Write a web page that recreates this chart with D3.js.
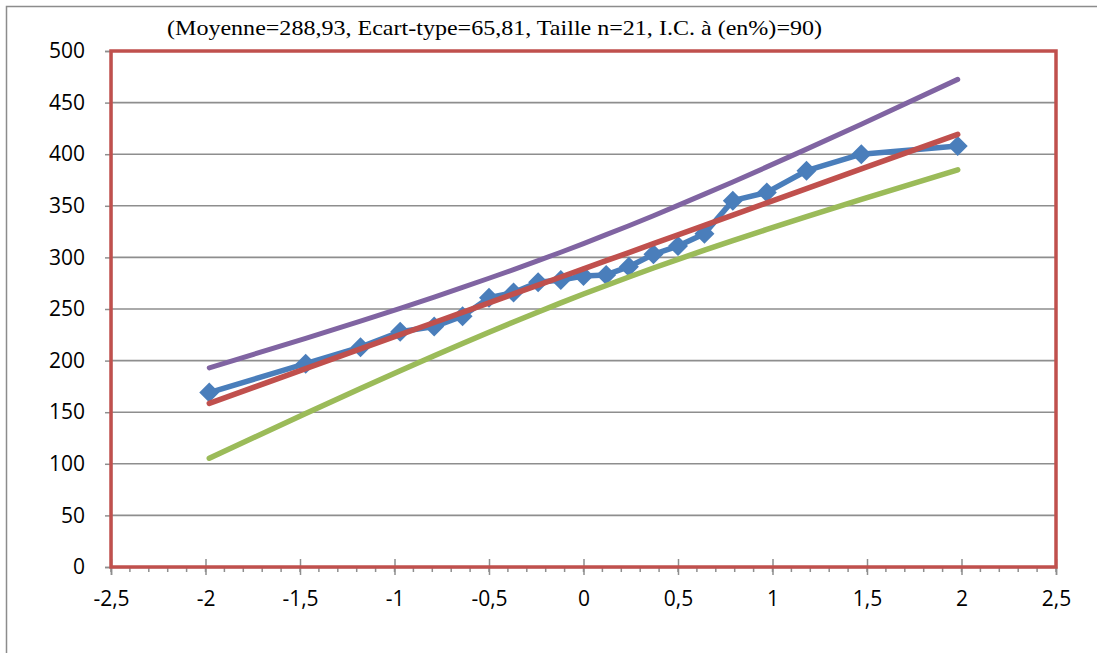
<!DOCTYPE html>
<html>
<head>
<meta charset="utf-8">
<script src="https://cdn.jsdelivr.net/npm/d3@7"></script>
<style>
  html, body { margin: 0; padding: 0; background: #ffffff; }
  svg { display: block; }
</style>
</head>
<body>
<svg id="chart" width="1097" height="653"></svg>
<script>
// Normal quantiles (Hazen plotting positions) for the 21 sorted observations
const zScores = [-1.98, -1.47, -1.18, -0.97, -0.79, -0.64, -0.50, -0.37, -0.24, -0.12, 0,
                 0.12, 0.24, 0.37, 0.50, 0.64, 0.79, 0.97, 1.18, 1.47, 1.98];
// Sorted observations
const observed = [169, 197, 213, 228, 233, 243, 261, 266, 276, 278, 282,
                  283, 291, 303, 311, 323, 355, 363, 384, 400, 408];
// Fitted normal line: mean + sd * z
const fitted = [158.6, 192.2, 211.3, 225.1, 236.9, 246.8, 256.0, 264.6, 273.1, 281.0, 288.9,
                296.8, 304.7, 313.3, 321.8, 331.1, 340.9, 352.8, 366.6, 385.7, 419.2];
// 90% confidence band, upper limit
const upperBound = [193.0, 221.6, 238.3, 250.7, 261.6, 270.9, 279.8, 288.2, 296.9, 305.0, 313.4,
                    322.0, 330.7, 340.4, 350.4, 361.3, 373.1, 387.7, 404.9, 429.1, 472.5];
// 90% confidence band, lower limit
const lowerBound = [105.4, 148.7, 173.0, 190.2, 204.7, 216.6, 227.5, 237.4, 247.1, 255.9, 264.5,
                    272.8, 281.0, 289.7, 298.1, 307.0, 316.3, 327.1, 339.5, 356.3, 384.9];

const xTicks = [-2.5, -2, -1.5, -1, -0.5, 0, 0.5, 1, 1.5, 2, 2.5];
const yTicks = [0, 50, 100, 150, 200, 250, 300, 350, 400, 450, 500];
const titleText = "(Moyenne=288,93, Ecart-type=65,81, Taille n=21, I.C. à (en%)=90)";

const svg = d3.select("#chart");
const plot = { left: 111, right: 1056, top: 51, bottom: 567 };

const x = d3.scaleLinear().domain([-2.5, 2.5]).range([plot.left, plot.right]);
const y = d3.scaleLinear().domain([0, 500]).range([plot.bottom, plot.top]);
const fmt = v => String(v).replace(".", ",");
const labelFont = "'Open Sans', Lato, sans-serif";

// Outer chart frame
svg.append("rect")
  .attr("x", 6.5).attr("y", 6.5)
  .attr("width", 1200).attr("height", 800)
  .attr("fill", "none").attr("stroke", "#8c8c8c").attr("stroke-width", 1.5);

// Title
svg.append("text")
  .attr("x", 167).attr("y", 35)
  .attr("font-family", "'Liberation Serif', 'Times New Roman', serif")
  .attr("font-size", 22)
  .attr("textLength", 655)
  .attr("lengthAdjust", "spacingAndGlyphs")
  .attr("fill", "#000")
  .text(titleText);

// Horizontal gridlines
svg.append("g")
  .selectAll("line")
  .data(yTicks.filter(v => v > 0 && v < 500))
  .join("line")
  .attr("x1", plot.left).attr("x2", plot.right)
  .attr("y1", d => y(d)).attr("y2", d => y(d))
  .attr("stroke", "#8e8e8e").attr("stroke-width", 1.6);

// Y axis
const yAxis = d3.axisLeft(y).tickValues(yTicks).tickSize(6).tickPadding(20).tickFormat(fmt);
const gy = svg.append("g").attr("transform", `translate(${plot.left},0)`).call(yAxis);
gy.select(".domain").attr("stroke", "#8e8e8e").attr("stroke-width", 1.5);
gy.selectAll(".tick line").attr("stroke", "#8e8e8e").attr("stroke-width", 1.5);
gy.selectAll(".tick text")
  .attr("font-family", labelFont)
  .attr("font-size", 21).attr("fill", "#000");

// X axis: minor ticks every 0.1, major ticks every 0.5 crossing the axis
const minorTicks = d3.range(-25, 26).map(v => v / 10);
svg.append("g")
  .selectAll("line")
  .data(minorTicks)
  .join("line")
  .attr("x1", d => x(d)).attr("x2", d => x(d))
  .attr("y1", plot.bottom).attr("y2", plot.bottom + 5)
  .attr("stroke", "#8e8e8e").attr("stroke-width", 1.5);

const xAxis = d3.axisBottom(x).tickValues(xTicks).tickSize(8).tickPadding(16).tickFormat(fmt);
const gx = svg.append("g").attr("transform", `translate(0,${plot.bottom})`).call(xAxis);
gx.select(".domain").attr("stroke", "#8e8e8e").attr("stroke-width", 1.5);
gx.selectAll(".tick line").attr("y1", -8).attr("stroke", "#8e8e8e").attr("stroke-width", 1.5);
gx.selectAll(".tick text")
  .attr("font-family", labelFont)
  .attr("font-size", 21).attr("fill", "#000");

// Plot area border
svg.append("rect")
  .attr("x", plot.left).attr("y", plot.top)
  .attr("width", plot.right - plot.left).attr("height", plot.bottom - plot.top)
  .attr("fill", "none").attr("stroke", "#c0504d").attr("stroke-width", 3.5);

const line = d3.line().x(d => x(d[0])).y(d => y(d[1]));
const pairs = vals => zScores.map((z, i) => [z, vals[i]]);

function drawSeries(vals, color, width) {
  svg.append("path")
    .datum(pairs(vals))
    .attr("d", line)
    .attr("fill", "none")
    .attr("stroke", color)
    .attr("stroke-width", width)
    .attr("stroke-linecap", "round")
    .attr("stroke-linejoin", "round");
}

// Observed values with diamond markers
drawSeries(observed, "#4a7ebb", 5.5);
svg.append("g")
  .selectAll("path")
  .data(pairs(observed))
  .join("path")
  .attr("d", d3.symbol().type(d3.symbolSquare).size(200))
  .attr("transform", d => `translate(${x(d[0])},${y(d[1])}) rotate(45)`)
  .attr("fill", "#4a7ebb");

drawSeries(fitted, "#c0504d", 5.5);
drawSeries(upperBound, "#8064a2", 5);
drawSeries(lowerBound, "#9bbb59", 5.5);
</script>
</body>
</html>
